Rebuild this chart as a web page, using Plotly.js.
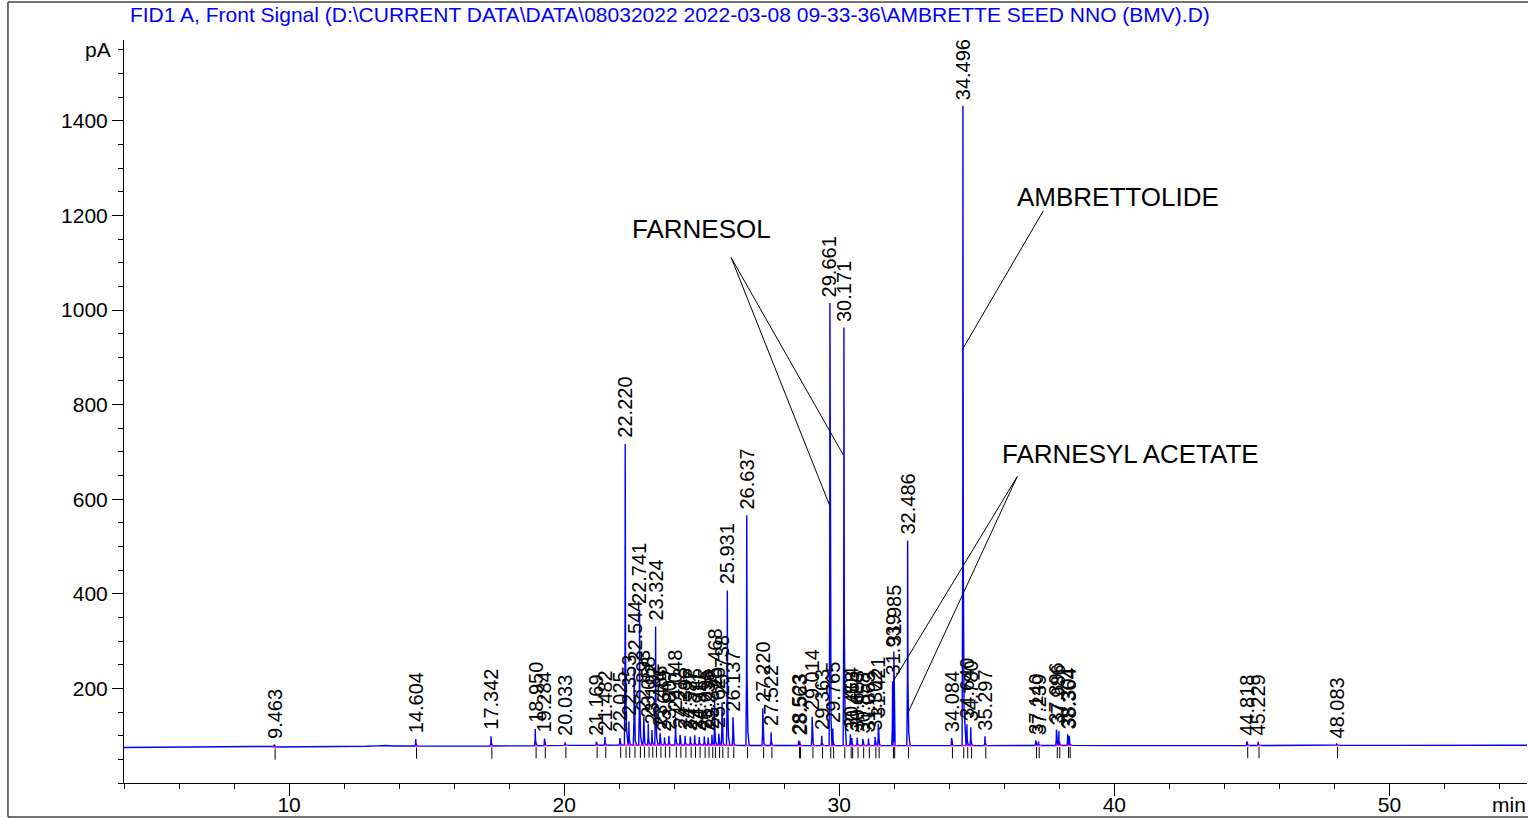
<!DOCTYPE html>
<html><head><meta charset="utf-8">
<script src="https://cdn.plot.ly/plotly-3.0.1.min.js"></script>
<style>html,body{margin:0;padding:0;background:#fff}#chart{width:1528px;height:819px}</style>
</head><body><div id="chart"></div>
<script>
// Retention times (min) of integrated peaks
const peakTimes = [9.463, 14.604, 17.342, 18.950, 19.284, 20.033,
  21.169, 21.482, 22.025, 22.220, 22.353, 22.544, 22.741, 22.893, 23.058, 23.192, 23.324,
  23.486, 23.649, 23.807, 24.048, 24.213, 24.396, 24.587, 24.745, 24.911, 25.095, 25.236,
  25.372, 25.468, 25.620, 25.738, 25.931, 26.137, 26.637, 27.220, 27.522, 28.523, 28.563,
  29.014, 29.363, 29.661, 29.765, 30.171, 30.404, 30.458, 30.653, 30.858, 31.063, 31.302,
  31.421, 31.939, 31.985, 32.486, 34.084, 34.496, 34.640, 34.780, 35.297, 37.140, 37.239,
  37.896, 37.986, 38.304, 38.364, 44.818, 45.229, 48.083];
// Apex heights (pA)
const peakHeights = [81, 93, 99, 114, 94, 86,
  87, 97, 95, 717, 130, 243, 366, 140, 125, 112, 331,
  105, 96, 100, 140, 102, 100, 98, 101, 97, 99, 96,
  102, 185, 104, 170, 407, 139, 566, 158, 107, 90, 88,
  140, 100, 1015, 115, 963, 103, 95, 96, 93, 94, 97,
  125, 215, 278, 513, 95, 1432, 124, 118, 99, 90, 88,
  113, 110, 103, 100, 88, 87, 82];
// Peak labels as printed
const peakLabels = peakTimes.map(t => t.toFixed(3));
// Baseline drift (pA)
const baselineTimes  = [4, 9.0, 10.5, 11.8, 12.2, 12.5, 12.8, 13.2, 13.5, 13.8, 14.3, 16.0, 18.5, 20.0, 22.0, 24.0, 26.0, 30.0, 35.0, 38.5, 40.0, 45.0, 47.0, 48.5, 50.0, 55.0];
const baselineValues = [75.0, 76.0, 76.3, 76.8, 77.5, 78.2, 77.6, 78.5, 79.2, 78.2, 78.3, 78.0, 78.6, 79.5, 80.0, 80.5, 79.5, 79.0, 79.0, 79.5, 79.0, 79.2, 79.8, 79.4, 79.6, 79.8];
const xTickVals = [10, 20, 30, 40, 50];
const yTickVals = [200, 400, 600, 800, 1000, 1200, 1400];
const compoundNames = ['FARNESOL', 'AMBRETTOLIDE', 'FARNESYL ACETATE'];
const titleText = 'FID1 A, Front Signal (D:\\CURRENT DATA\\DATA\\08032022 2022-03-08 09-33-36\\AMBRETTE SEED NNO (BMV).D)';

function baseAt(t) {
  for (let i = 0; i < baselineTimes.length - 1; i++) {
    if (t >= baselineTimes[i] && t <= baselineTimes[i + 1]) {
      const f = (t - baselineTimes[i]) / (baselineTimes[i + 1] - baselineTimes[i]);
      return baselineValues[i] + f * (baselineValues[i + 1] - baselineValues[i]);
    }
  }
  return baselineValues[baselineValues.length - 1];
}

// signal trace: baseline points + peak shapes
let pts = baselineTimes.map((t, i) => [t, baselineValues[i]]);
peakTimes.forEach((t, i) => {
  const b = baseAt(t), h = peakHeights[i], d = h - b;
  pts.push([t - 0.03, b], [t - 0.008, b + d * 0.3], [t, h], [t + 0.012, b + d * 0.3], [t + 0.04, b + d * 0.06], [t + 0.09, b]);
});
pts.sort((a, b) => a[0] - b[0]);
const sigX = pts.map(p => p[0]), sigY = pts.map(p => p[1]);

// integration baselines (magenta)
const mx = [], my = [];
peakTimes.forEach(t => { const b = baseAt(t); mx.push(t - 0.05, t + 0.12, null); my.push(b, b, null); });

const traces = [
  {x: sigX, y: sigY, type: 'scatter', mode: 'lines', line: {color: '#0000FF', width: 1.4}, hoverinfo: 'skip'},
  {x: mx, y: my, type: 'scatter', mode: 'lines', line: {color: '#FF00FF', width: 1.2}, hoverinfo: 'skip'},
  {x: peakTimes.map(t => t + 0.03), y: peakTimes.map(t => baseAt(t) - 15), type: 'scatter', mode: 'markers',
   marker: {symbol: 'line-ns', size: 8, color: '#000', line: {color: '#000', width: 1}}, hoverinfo: 'skip'}
];

const fam = 'Liberation Sans, Arial, sans-serif';
const annotations = peakTimes.map((t, i) => ({
  x: t, y: peakHeights[i], xref: 'x', yref: 'y', text: peakLabels[i], textangle: -90,
  showarrow: false, xanchor: 'center', yanchor: 'bottom', yshift: 4,
  font: {family: fam, size: 20, color: '#000'}
}));
const nameFont = {family: fam, size: 26, color: '#000'};
annotations.push(
  {x: 24.98, y: 1172, xref: 'x', yref: 'y', text: compoundNames[0], showarrow: false, font: nameFont},
  {x: 40.13, y: 1240, xref: 'x', yref: 'y', text: compoundNames[1], showarrow: false, font: nameFont},
  {x: 40.6, y: 696, xref: 'x', yref: 'y', text: compoundNames[2], showarrow: false, font: nameFont},
  {x: -0.008, y: 1550, xref: 'paper', yref: 'y', text: 'pA', showarrow: false, xanchor: 'right',
   font: {family: fam, size: 21, color: '#000'}},
  {x: 1.001, y: -0.0296, xref: 'paper', yref: 'paper', text: 'min', showarrow: false, xanchor: 'right', yanchor: 'middle',
   font: {family: fam, size: 21, color: '#000'}}
);

const ln = {color: '#000', width: 1};
const fr = {color: '#444', width: 1.5};
const shapes = [
  {type: 'line', xref: 'x', yref: 'y', x0: 26.07, y0: 1111, x1: 29.636, y1: 589, line: ln},
  {type: 'line', xref: 'x', yref: 'y', x0: 26.07, y0: 1111, x1: 30.145, y1: 694, line: ln},
  {type: 'line', xref: 'x', yref: 'y', x0: 37.42, y0: 1210, x1: 34.47, y1: 916, line: ln},
  {type: 'line', xref: 'x', yref: 'y', x0: 36.47, y0: 648, x1: 31.96, y1: 215, line: ln},
  {type: 'line', xref: 'x', yref: 'y', x0: 36.47, y0: 648, x1: 32.47, y1: 145, line: ln},
  {type: 'line', xref: 'paper', yref: 'paper', x0: -0.0827, x1: 1.001, y0: 1.0511, y1: 1.0511, line: fr},
  {type: 'line', xref: 'paper', yref: 'paper', x0: -0.0827, x1: 1.001, y0: -0.0458, y1: -0.0458, line: fr},
  {type: 'line', xref: 'paper', yref: 'paper', x0: -0.0827, x1: -0.0827, y0: -0.0458, y1: 1.0511, line: fr}
];

const layout = {
  width: 1528, height: 819,
  margin: {l: 124, r: 1, t: 40, b: 36, pad: 0},
  paper_bgcolor: '#fff', plot_bgcolor: '#fff',
  showlegend: false,
  title: {text: titleText, x: 0.085, xanchor: 'left', xref: 'container', y: 0.982, yanchor: 'middle', yref: 'container',
          font: {family: fam, size: 21, color: '#0000FF'}},
  xaxis: {range: [4, 55], tickmode: 'array', tickvals: xTickVals, ticks: 'outside', ticklen: 12, tickcolor: '#000', tickwidth: 1,
          ticklabelstandoff: -9,
          showline: true, linecolor: '#000', linewidth: 1, showgrid: false, zeroline: false,
          minor: {tickmode: 'linear', tick0: 0, dtick: 2, ticks: 'outside', ticklen: 5, tickcolor: '#000', tickwidth: 1, showgrid: false},
          tickfont: {family: fam, size: 21, color: '#000'}},
  yaxis: {range: [0, 1571], tickmode: 'array', tickvals: yTickVals, ticks: 'outside', ticklen: 11, tickcolor: '#000', tickwidth: 1,
          showline: true, linecolor: '#000', linewidth: 1, showgrid: false, zeroline: false,
          minor: {tickmode: 'linear', tick0: 0, dtick: 50, ticks: 'outside', ticklen: 5, tickcolor: '#000', tickwidth: 1, showgrid: false},
          tickfont: {family: fam, size: 21, color: '#000'}},
  annotations: annotations,
  shapes: shapes
};

Plotly.newPlot('chart', traces, layout, {displayModeBar: false, staticPlot: true});
</script>
</body></html>
